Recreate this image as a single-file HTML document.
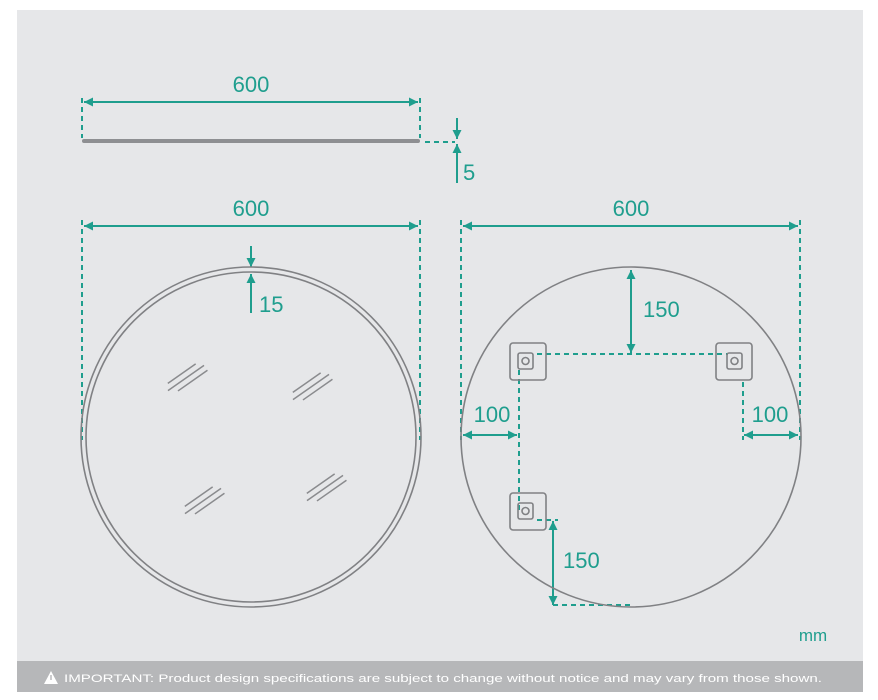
<!DOCTYPE html>
<html><head><meta charset="utf-8"><style>
html,body{margin:0;padding:0;background:#fff;width:878px;height:700px;overflow:hidden}
svg{display:block}
text{font-family:"Liberation Sans",sans-serif}
</style></head><body>
<svg width="878" height="700" viewBox="0 0 878 700" xmlns="http://www.w3.org/2000/svg">
<defs>
<marker id="a" viewBox="0 0 10 10" refX="10" refY="5" markerWidth="9" markerHeight="9" orient="auto-start-reverse" markerUnits="userSpaceOnUse"><path d="M0,0 L10,5 L0,10 z" fill="#1f9e8e"/></marker>
<g id="h" stroke="#8a8b8e" stroke-width="1.5">
<line x1="-18" y1="-6" x2="16" y2="-6"/><line x1="-22" y1="0" x2="22" y2="0"/><line x1="-14" y1="6" x2="22" y2="6"/>
</g>
</defs>
<rect x="17" y="10" width="846" height="682" fill="#e6e7e9"/>
<rect x="17" y="661" width="846" height="31" fill="#b6b7b9"/>
<g fill="#1f9e8e" font-size="22" text-anchor="middle">
<text x="251" y="92">600</text>
<text x="251" y="216">600</text>
<text x="631" y="216">600</text>
<text x="463" y="180" text-anchor="start">5</text>
<text x="259" y="312" text-anchor="start">15</text>
<text x="643" y="317" text-anchor="start">150</text>
<text x="492" y="422">100</text>
<text x="770" y="422">100</text>
<text x="563" y="568" text-anchor="start">150</text>
<text x="813" y="641" font-size="17">mm</text>
</g>
<g stroke="#1f9e8e" stroke-width="2" fill="none">
<line x1="84" y1="102" x2="418" y2="102" marker-start="url(#a)" marker-end="url(#a)"/>
<line x1="84" y1="226" x2="418" y2="226" marker-start="url(#a)" marker-end="url(#a)"/>
<line x1="463" y1="226" x2="798" y2="226" marker-start="url(#a)" marker-end="url(#a)"/>
<line x1="457" y1="118" x2="457" y2="139" marker-end="url(#a)"/>
<line x1="457" y1="183" x2="457" y2="144" marker-end="url(#a)"/>
<line x1="251" y1="246" x2="251" y2="267" marker-end="url(#a)"/>
<line x1="251" y1="313" x2="251" y2="274" marker-end="url(#a)"/>
<line x1="631" y1="270" x2="631" y2="353" marker-start="url(#a)" marker-end="url(#a)"/>
<line x1="463" y1="435" x2="517" y2="435" marker-start="url(#a)" marker-end="url(#a)"/>
<line x1="744" y1="435" x2="798" y2="435" marker-start="url(#a)" marker-end="url(#a)"/>
<line x1="553" y1="521" x2="553" y2="605" marker-start="url(#a)" marker-end="url(#a)"/>
</g>
<g stroke="#1f9e8e" stroke-width="2" fill="none" stroke-dasharray="5,4">
<line x1="82" y1="98" x2="82" y2="138"/>
<line x1="420" y1="98" x2="420" y2="138"/>
<line x1="425" y1="142" x2="455" y2="142"/>
<line x1="82" y1="220" x2="82" y2="440"/>
<line x1="420" y1="220" x2="420" y2="440"/>
<line x1="461" y1="220" x2="461" y2="440"/>
<line x1="800" y1="220" x2="800" y2="440"/>
<line x1="537" y1="354" x2="728" y2="354"/>
<line x1="519" y1="370" x2="519" y2="510"/>
<line x1="743" y1="382" x2="743" y2="440"/>
<line x1="537" y1="520" x2="558" y2="520"/>
<line x1="553" y1="605" x2="630" y2="605"/>
</g>
<line x1="84" y1="141" x2="418" y2="141" stroke="#8e8f92" stroke-width="4" stroke-linecap="round"/>
<g stroke="#808184" fill="none" stroke-width="1.6">
<circle cx="251" cy="437" r="170"/>
<circle cx="251" cy="437" r="165"/>
<circle cx="631" cy="437" r="170"/>
<rect x="510" y="343" width="36" height="37" rx="3"/>
<rect x="518" y="353" width="15" height="16" rx="2"/>
<rect x="716" y="343" width="36" height="37" rx="3"/>
<rect x="727" y="353" width="15" height="16" rx="2"/>
<rect x="510" y="493" width="36" height="37" rx="3"/>
<rect x="518" y="503" width="15" height="16" rx="2"/>
<circle cx="525.5" cy="361" r="3.5"/>
<circle cx="734.5" cy="361" r="3.5"/>
<circle cx="525.5" cy="511" r="3.5"/>
</g>
<use href="#h" transform="translate(186,378) rotate(-35)"/>
<use href="#h" transform="translate(311,387) rotate(-35)"/>
<use href="#h" transform="translate(203,501) rotate(-35)"/>
<use href="#h" transform="translate(325,488) rotate(-35)"/>
<path d="M44,684 L51,671 L58,684 z" fill="#fff"/>
<rect x="50.3" y="675" width="1.4" height="5" fill="#b6b7b9"/>
<text x="64" y="682" font-size="11" fill="#fff" textLength="758" lengthAdjust="spacingAndGlyphs">IMPORTANT:  Product design specifications are subject to change without notice and may vary from those shown.</text>
</svg>
</body></html>
